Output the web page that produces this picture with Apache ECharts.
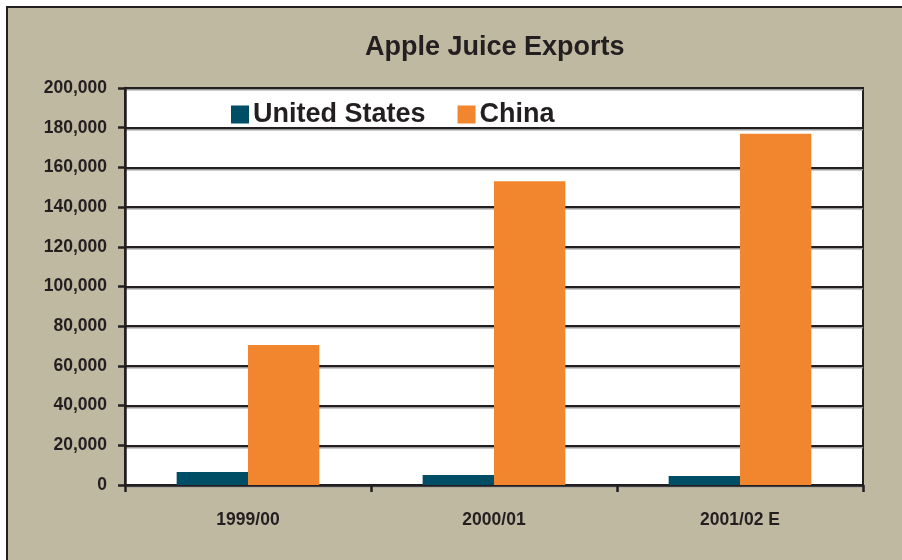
<!DOCTYPE html>
<html>
<head>
<meta charset="utf-8">
<script src="https://cdn.jsdelivr.net/npm/echarts@6/dist/echarts.min.js"></script>
<style>
  html, body { margin: 0; padding: 0; background: #ffffff; overflow: hidden; }
  #frame { position: absolute; left: 6px; top: 6px; width: 1000px; height: 1000px; background: #bfb9a2; border: 2px solid #231f20; }
  #chart { position: absolute; left: 0; top: 0; width: 902px; height: 560px; }
</style>
</head>
<body>
<div id="frame"></div>
<div id="chart"></div>
<script>
const categories = ['1999/00', '2000/01', '2001/02 E'];
const unitedStates = [6500, 5000, 4500];
const china = [70500, 153000, 177000];
const seriesNames = ['United States', 'China'];

const axisFont = "'Liberation Sans', Arial, sans-serif";
const mainFont = "'Liberation Sans', Arial, sans-serif";
const ink = '#231f20';

const chart = echarts.init(document.getElementById('chart'), null, { renderer: 'canvas' });
chart.setOption({
  backgroundColor: 'transparent',
  animation: false,
  title: {
    text: 'Apple Juice Exports',
    left: 360,
    top: 29,
    textStyle: { fontFamily: mainFont, fontWeight: 'bold', fontSize: 27, color: ink }
  },
  legend: {
    data: seriesNames,
    left: 226,
    top: 96,
    icon: 'rect',
    itemWidth: 18,
    itemHeight: 18,
    itemGap: 32,
    textStyle: { fontFamily: mainFont, fontWeight: 'bold', fontSize: 27, color: ink, padding: [0, 0, 0, -1] }
  },
  grid: {
    left: 125, right: 39, top: 88, bottom: 75,
    show: true, backgroundColor: '#ffffff', borderColor: ink, borderWidth: 2,
    containLabel: false
  },
  xAxis: {
    type: 'category',
    data: categories,
    axisLine: { show: true, lineStyle: { color: ink, width: 2.5 } },
    axisTick: { show: true, inside: false, length: 7, lineStyle: { color: ink, width: 2.5 } },
    axisLabel: { margin: 26, fontFamily: axisFont, fontWeight: 'bold', fontSize: 17.5, color: ink }
  },
  yAxis: {
    type: 'value',
    min: 0, max: 200000, interval: 20000,
    axisLine: { show: true, lineStyle: { color: ink, width: 2.5 } },
    axisTick: { show: true, inside: false, length: 7, lineStyle: { color: ink, width: 2.5 } },
    axisLabel: {
      margin: 18, fontFamily: axisFont, fontWeight: 'bold', fontSize: 17.5, color: ink,
      formatter: v => v.toString().replace(/\B(?=(\d{3})+(?!\d))/g, ',')
    },
    splitLine: { show: true, lineStyle: { color: ink, width: 2, shadowColor: '#9a9a9a', shadowOffsetY: 1.5, shadowBlur: 0 } }
  },
  series: [
    { name: seriesNames[0], type: 'bar', data: unitedStates, itemStyle: { color: '#004d66' }, barGap: '0%', barCategoryGap: '42%', z: 3 },
    { name: seriesNames[1], type: 'bar', data: china, itemStyle: { color: '#f2862e' }, barGap: '0%', barCategoryGap: '42%', z: 3 }
  ]
});
</script>
</body>
</html>
